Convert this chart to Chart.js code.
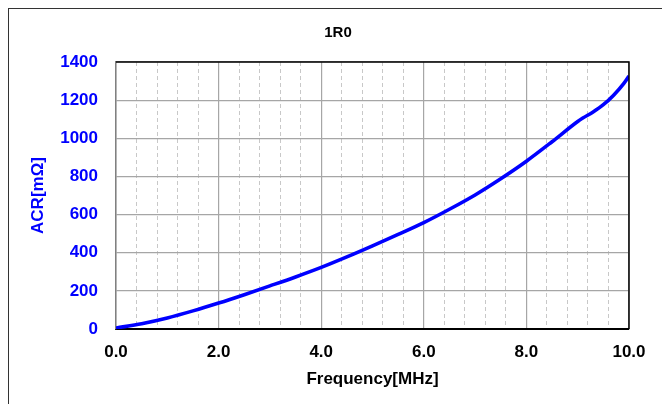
<!DOCTYPE html>
<html lang="en">
<head>
  <meta charset="UTF-8" />
  <title>1R0 ACR vs Frequency</title>
  <script src="https://cdn.jsdelivr.net/npm/chart.js"></script>
  <style>
    body {
      margin: 0;
      background-color: #fff;
      font-family: "Liberation Sans", Arial, sans-serif;
    }
    .frame {
      position: absolute;
      left: 8px;
      top: 8px;
      width: 700px;
      height: 450px;
      border: 1.5px solid #333;
    }
    canvas {
      position: absolute;
      left: 0;
      top: 0;
    }
  </style>
</head>
<body>
  <div class="frame"></div>
  <canvas id="acrChart" width="662" height="404"></canvas>

  <script>
    // values
    const chartTitle = '1R0';
    const freq = [0.0, 0.5, 1.0, 1.5, 2.0, 2.5, 3.0, 3.5, 4.0, 4.5, 5.0, 5.5, 6.0, 6.5, 7.0, 7.5, 8.0, 8.5, 9.0, 9.1, 9.3, 9.5, 9.7, 9.9, 10.0];
    const acr  = [5, 28, 58, 95, 136, 180, 226, 273, 323, 378, 436, 496, 558, 628, 703, 788, 880, 982, 1088, 1106, 1138, 1176, 1226, 1288, 1327];
    const yTicks = [0, 200, 400, 600, 800, 1000, 1200, 1400];

    const points = freq.map((f, i) => ({ x: f, y: acr[i] }));

    // title sits over the whole frame, not the plot area; plus top/right plot border
    const framePlugin = {
      id: 'framePlugin',
      afterDraw(chart) {
        const { ctx, chartArea: a } = chart;
        ctx.save();
        ctx.strokeStyle = '#000';
        ctx.lineWidth = 1.5;
        ctx.beginPath();
        ctx.moveTo(a.left, a.top);
        ctx.lineTo(a.right, a.top);
        ctx.lineTo(a.right, a.bottom);
        ctx.stroke();
        ctx.fillStyle = '#000';
        ctx.font = 'bold 15px "Liberation Sans", Arial';
        ctx.textAlign = 'center';
        ctx.textBaseline = 'middle';
        ctx.fillText(chartTitle, 338, 33);
        ctx.restore();
      }
    };

    new Chart(document.getElementById('acrChart'), {
      type: 'line',
      data: {
        datasets: [{
          data: points,
          borderColor: '#0000ff',
          borderWidth: 3.6,
          pointRadius: 0,
          fill: false,
          cubicInterpolationMode: 'monotone'
        }]
      },
      options: {
        responsive: false,
        animation: false,
        layout: { padding: { left: 0, right: 33, top: 62, bottom: 0 } },
        plugins: {
          legend: { display: false },
          tooltip: { enabled: false },
          title: { display: false }
        },
        scales: {
          x: {
            type: 'linear',
            min: 0,
            max: 10,
            afterFit: s => { s.height = 75; },
            ticks: {
              stepSize: 2,
              color: '#000',
              padding: 13,
              font: { family: 'Liberation Sans', size: 17, weight: 'bold' },
              callback: v => v.toFixed(1)
            },
            grid: { color: '#a6a6a6', lineWidth: 1.2, drawTicks: false },
            border: { color: '#000', width: 2 },
            title: {
              display: true,
              text: 'Frequency[MHz]',
              color: '#000',
              font: { family: 'Liberation Sans', size: 17, weight: 'bold' },
              padding: { top: 0, bottom: 14 }
            }
          },
          xMinor: {
            type: 'linear',
            position: 'bottom',
            min: 0,
            max: 10,
            afterFit: s => { s.height = 0; },
            ticks: { stepSize: 0.4, display: false },
            grid: {
              drawTicks: false,
              lineWidth: 1,
              color: c => (Math.abs(c.tick.value / 2 - Math.round(c.tick.value / 2)) < 1e-6 ? 'rgba(0,0,0,0)' : '#c8c8c8')
            },
            border: { display: false, dash: [4, 3] }
          },
          y: {
            min: 0,
            max: 1400,
            afterFit: s => { s.width = 116; },
            afterBuildTicks: s => { s.ticks = yTicks.map(v => ({ value: v })); },
            ticks: {
              color: '#0000ff',
              padding: 18,
              font: { family: 'Liberation Sans', size: 17, weight: 'bold' },
              callback: v => String(v)
            },
            grid: { color: '#a6a6a6', lineWidth: 1.2, drawTicks: false },
            border: { color: '#808080', width: 1.5 },
            title: {
              display: true,
              text: 'ACR[mΩ]',
              color: '#0000ff',
              font: { family: 'Liberation Sans', size: 17, weight: 'bold' },
              padding: { top: 28, bottom: 0 }
            }
          }
        }
      },
      plugins: [framePlugin]
    });
  </script>
</body>
</html>
